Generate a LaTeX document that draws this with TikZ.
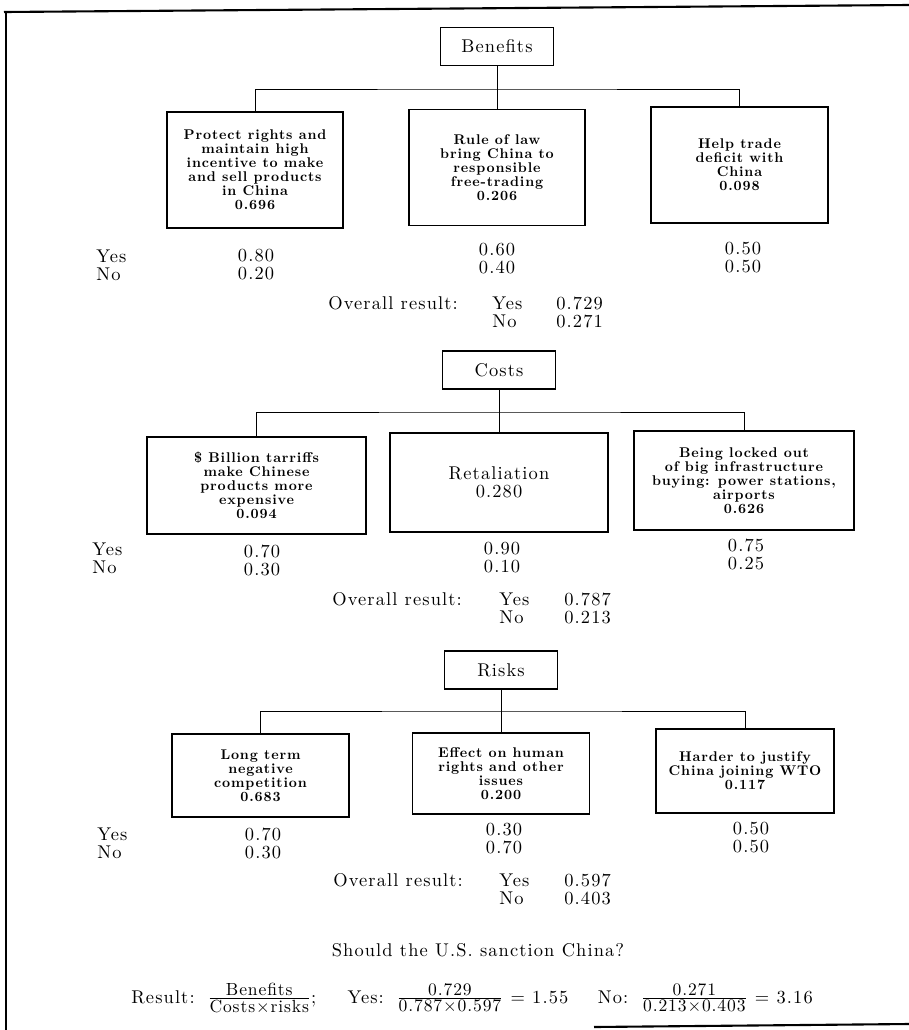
\documentclass[tikz,border=0pt]{standalone}
\usepackage{fontspec}
\setmainfont{lmroman10-regular.otf}[BoldFont=lmroman10-bold.otf,LetterSpace=6]
\newfontfamily\critfam{lmroman10-bold.otf}[LetterSpace=6]
\newfontfamily\fracfam{lmroman10-regular.otf}[LetterSpace=5]
\newcommand\fracfont{\fontsize{10}{11}\selectfont\fracfam}

\begin{document}
\begin{tikzpicture}[x=0.2mm,y=-0.2mm,every node/.style={font=\fontsize{10.5}{10.2}\selectfont,align=center,inner sep=0pt},
head/.style={draw,line width=0.9pt,minimum width=22.6mm,minimum height=7.6mm},
crit/.style={draw,line width=0.9pt,font=\fontsize{8}{8}\selectfont\critfam},
link/.style={line width=0.5pt},
frame/.style={line width=1.2pt}]
\useasboundingbox (0,0) rectangle (909,1030);
% page frame
\draw[frame] (4,12)--(909,5);\draw[frame] (6,11)--(6,1030);\draw[frame] (594,1027)--(909,1024);
% benefits
\node[head] (ben) at (497,46.5) {Benefits};
\node[crit,minimum width=35.2mm,minimum height=23.2mm] (b1) at (255,170) {Protect rights and\\maintain high\\incentive to make\\and sell products\\in China\\0.696};
\node[crit,minimum width=35.2mm,minimum height=23.2mm] (b2) at (497,167.5) {Rule of law\\bring China to\\responsible\\free-trading\\0.206};
\node[crit,minimum width=35.4mm,minimum height=23.2mm] (b3) at (739.5,165) {Help trade\\deficit with\\China\\0.098};
\coordinate (bbar) at (497,89);
\draw[link] (ben)--(b2);\draw[link] (b1.north) |- (bbar) -| (b3.north);
\node[anchor=west,align=left] (byn) at (96,265) {Yes\\No};
\node (bv1) at (256,265) {0.80\\0.20};
\node (bv2) at (497,259) {0.60\\0.40};
\node (bv3) at (743,258) {0.50\\0.50};
\node[anchor=west] (bres) at (328,303) {Overall result:};
\node[anchor=west,align=left] (bryn) at (492,312.5) {Yes\\No};
\node[anchor=west,align=left] (brv) at (556,312.5) {0.729\\0.271};
% costs
\node[head] (cst) at (499,370) {Costs};
\node[crit,minimum width=43.8mm,minimum height=19.4mm] (c1) at (256.5,485.5) {\$ Billion tarriffs\\make Chinese\\products more\\expensive\\0.094};
\node[crit,minimum width=43.6mm,minimum height=19.8mm,font=\fontsize{10.5}{10.2}\selectfont] (c2) at (499,482.5) {Retaliation\\0.280};
\node[crit,minimum width=44mm,minimum height=19.8mm] (c3) at (744,480.5) {Being locked out\\of big infrastructure\\buying: power stations,\\airports\\0.626};
\coordinate (cbar) at (499,412);
\draw[link] (cst)--(c2);\draw[link] (c1.north) |- (cbar) -| (c3.north);
\node[anchor=west,align=left] (cyn) at (92,558) {Yes\\No};
\node (cv1) at (262,560) {0.70\\0.30};
\node (cv2) at (502,557.5) {0.90\\0.10};
\node (cv3) at (746,554.5) {0.75\\0.25};
\node[anchor=west] (cres) at (332,599) {Overall result:};
\node[anchor=west,align=left] (cryn) at (499,608) {Yes\\No};
\node[anchor=west,align=left] (crv) at (564,608) {0.787\\0.213};
% risks
\node[head] (rsk) at (501,670) {Risks};
\node[crit,minimum width=35.4mm,minimum height=16.6mm] (r1) at (260.5,775.5) {Long term\\negative\\competition\\0.683};
\node[crit,minimum width=35.4mm,minimum height=16.2mm] (r2) at (501,773.5) {Effect on human\\rights and other\\issues\\0.200};
\node[crit,minimum width=35.6mm,minimum height=16.8mm] (r3) at (745,771) {Harder to justify\\China joining WTO\\0.117};
\coordinate (rbar) at (501,711);
\draw[link] (rsk)--(r2);\draw[link] (r1.north) |- (rbar) -| (r3.north);
\node[anchor=west,align=left] (ryn) at (97,843.5) {Yes\\No};
\node (rv1) at (263,843.5) {0.70\\0.30};
\node (rv2) at (504,839) {0.30\\0.70};
\node (rv3) at (751,837.5) {0.50\\0.50};
\node[anchor=west] (rres) at (333,880) {Overall result:};
\node[anchor=west,align=left] (rryn) at (499,889) {Yes\\No};
\node[anchor=west,align=left] (rrv) at (564,889) {0.597\\0.403};
% decision
\node (quest) at (478,950) {Should the U.S. sanction China?};
\node (final) at (472,998) {Result:\, $\frac{\mbox{\fracfont Benefits}}{\mbox{\fracfont Costs×risks}}$;\hspace{1.7em}Yes:\, $\frac{\mbox{\fracfont 0.729}}{\mbox{\fracfont 0.787×0.597}}$ = 1.55\hspace{1.6em}No:\, $\frac{\mbox{\fracfont 0.271}}{\mbox{\fracfont 0.213×0.403}}$ = 3.16};
\end{tikzpicture}
\end{document}
